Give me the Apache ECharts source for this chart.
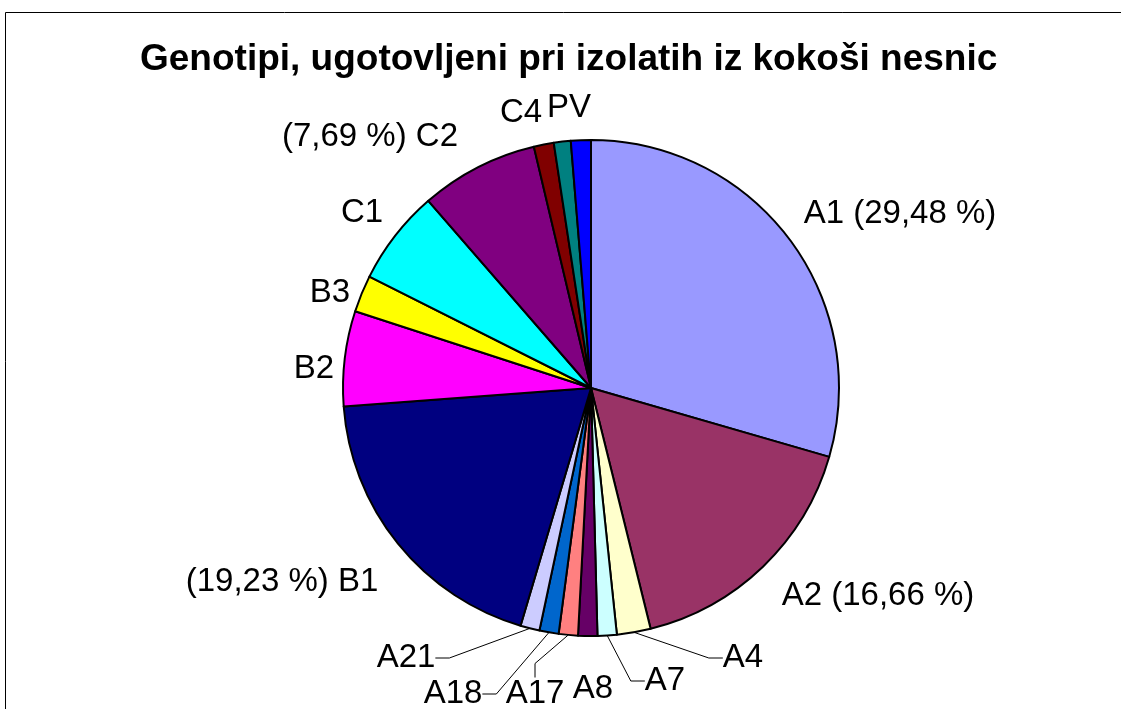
<!DOCTYPE html>
<html>
<head>
<meta charset="utf-8">
<script src="https://cdn.jsdelivr.net/npm/echarts@6/dist/echarts.min.js"></script>
<style>
html, body { margin: 0; padding: 0; background: #fff; }
#chart { width: 1121px; height: 709px; }
</style>
</head>
<body>
<div id="chart"></div>
<script>
// genotypes, clockwise from 12 o'clock
var names = ['A1', 'A2', 'A4', 'A7', 'A8', 'A17', 'A18', 'A21', 'B1', 'B2', 'B3', 'C1', 'C2', 'C3', 'C4', 'PV'];
var values = [29.48, 16.66, 2.2, 1.25, 1.25, 1.25, 1.25, 1.25, 19.23, 6.2, 2.4, 6.2, 7.69, 1.3, 1.1, 1.3];
var colors = ['#9999FF', '#993366', '#FFFFCC', '#CCFFFF', '#660066', '#FF8080', '#0066CC', '#CCCCFF',
              '#000080', '#FF00FF', '#FFFF00', '#00FFFF', '#800080', '#800000', '#008080', '#0000FF'];

// which labels carry the percentage, and on which side
var pctAfter = ['A1', 'A2'];
var pctBefore = ['B1', 'C2'];
var withLeader = ['A4', 'A7', 'A17', 'A18', 'A21'];
var hiddenLabel = ['C3'];

// label centres (as placed in the original chart)
var labelAt = {
	A1: [900, 214], A2: [878, 596], A4: [743, 658], A7: [665, 681], A8: [593, 689],
	A17: [535, 694], A18: [453, 694], A21: [406, 658], B1: [282, 582], B2: [314, 369],
	B3: [330, 293], C1: [362, 213], C2: [370, 137], C4: [521, 113], PV: [569, 108]
};

function fmt(v) {
	return v.toFixed(2).replace('.', ',');
}

var pieData = [];
names.forEach(function (n, i) {
	pieData.push({
		name: n,
		value: values[i],
		itemStyle: { color: colors[i] },
		label: { show: hiddenLabel.indexOf(n) < 0 },
		labelLine: { show: withLeader.indexOf(n) >= 0 }
	});
});

var chart = echarts.init(document.getElementById('chart'));
chart.setOption({
	animation: false,
	backgroundColor: '#fff',
	title: {
		text: 'Genotipi, ugotovljeni pri izolatih iz kokoši nesnic',
		left: 140,
		top: 41,
		padding: 0,
		textStyle: { fontFamily: 'Liberation Sans', fontSize: 37, fontWeight: 'bold', color: '#000' }
	},
	graphic: [{
		type: 'rect',
		shape: { x: 5.5, y: 12.5, width: 1130, height: 720 },
		style: { fill: 'none', stroke: '#000', lineWidth: 1 },
		silent: true
	}],
	series: [{
		type: 'pie',
		center: [591, 388],
		radius: 248,
		startAngle: 90,
		clockwise: true,
		avoidLabelOverlap: false,
		emphasis: { disabled: true },
		itemStyle: { borderColor: '#000', borderWidth: 2 },
		label: {
			position: 'outside',
			fontFamily: 'Liberation Sans',
			fontSize: 33,
			color: '#000',
			formatter: function (p) {
				if (pctAfter.indexOf(p.name) >= 0) return p.name + ' (' + fmt(p.value) + ' %)';
				if (pctBefore.indexOf(p.name) >= 0) return '(' + fmt(p.value) + ' %) ' + p.name;
				return p.name;
			}
		},
		labelLine: {
			length: 10,
			length2: 14,
			lineStyle: { color: '#000', width: 1 }
		},
		labelLayout: function (p) {
			var at = labelAt[names[p.dataIndex]];
			if (!at) return {};
			return { x: at[0], y: at[1], align: 'center', verticalAlign: 'middle' };
		},
		data: pieData
	}]
});
</script>
</body>
</html>
